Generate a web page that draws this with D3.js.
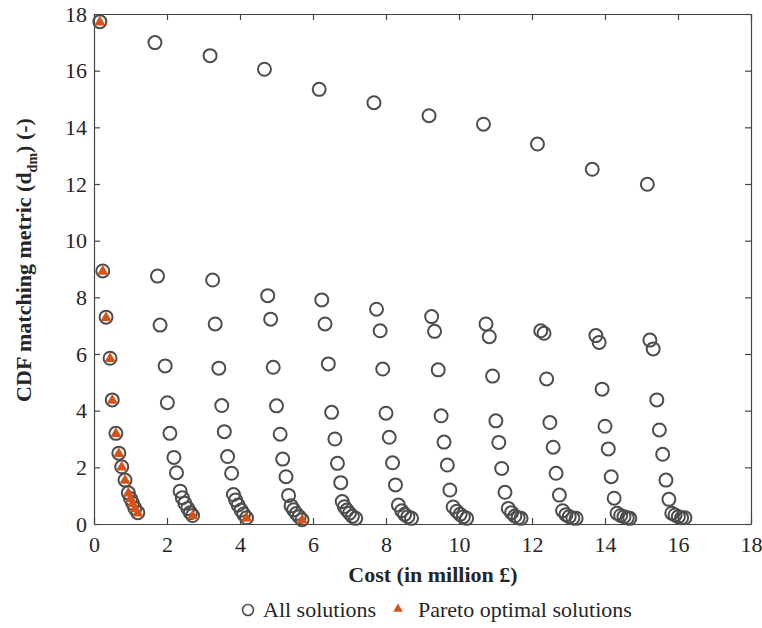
<!DOCTYPE html>
<html>
<head>
<meta charset="utf-8">
<script src="https://cdn.jsdelivr.net/npm/d3@7"></script>
<style>
  body { margin: 0; background: #fff; }
  text { font-family: "Liberation Serif", "Times New Roman", serif; fill: #262626; }
</style>
</head>
<body>
<div id="vis"></div>
<script>
// all solutions, one line per group (first value is the top row point)
var allCost = [
  [0.16, 0.24, 0.33, 0.44, 0.50, 0.60, 0.68, 0.76, 0.85, 0.94, 1.00, 1.06, 1.12, 1.20],
  [1.67, 1.74, 1.81, 1.95, 2.01, 2.08, 2.19, 2.26, 2.36, 2.42, 2.49, 2.57, 2.64, 2.70],
  [3.18, 3.25, 3.32, 3.42, 3.50, 3.57, 3.66, 3.77, 3.82, 3.88, 3.95, 4.03, 4.10, 4.18],
  [4.67, 4.76, 4.84, 4.91, 5.00, 5.10, 5.17, 5.26, 5.33, 5.40, 5.47, 5.54, 5.62, 5.70],
  [6.17, 6.24, 6.33, 6.42, 6.51, 6.60, 6.67, 6.76, 6.80, 6.86, 6.93, 7.00, 7.08, 7.17],
  [7.67, 7.74, 7.84, 7.91, 8.00, 8.09, 8.18, 8.26, 8.34, 8.43, 8.51, 8.60, 8.70],
  [9.18, 9.25, 9.33, 9.43, 9.51, 9.59, 9.68, 9.75, 9.84, 9.94, 10.03, 10.12, 10.21],
  [10.67, 10.74, 10.83, 10.92, 11.01, 11.09, 11.17, 11.26, 11.35, 11.44, 11.53, 11.62, 11.70],
  [12.15, 12.24, 12.33, 12.40, 12.49, 12.58, 12.66, 12.75, 12.84, 12.93, 13.02, 13.12, 13.21],
  [13.65, 13.75, 13.84, 13.92, 14.00, 14.09, 14.17, 14.25, 14.33, 14.43, 14.52, 14.61, 14.68],
  [15.16, 15.23, 15.32, 15.42, 15.49, 15.58, 15.67, 15.75, 15.83, 15.92, 16.01, 16.10, 16.19]
];
var allMetric = [
  [17.73, 8.93, 7.30, 5.85, 4.38, 3.20, 2.50, 2.02, 1.55, 1.10, 0.90, 0.73, 0.55, 0.40],
  [16.99, 8.75, 7.02, 5.58, 4.28, 3.20, 2.35, 1.81, 1.16, 0.93, 0.73, 0.55, 0.40, 0.30],
  [16.53, 8.61, 7.06, 5.50, 4.18, 3.26, 2.38, 1.79, 1.04, 0.85, 0.67, 0.49, 0.35, 0.22],
  [16.05, 8.06, 7.23, 5.53, 4.17, 3.17, 2.29, 1.67, 1.01, 0.64, 0.50, 0.37, 0.26, 0.15],
  [15.34, 7.91, 7.06, 5.65, 3.94, 3.00, 2.14, 1.46, 0.79, 0.61, 0.49, 0.38, 0.27, 0.20],
  [14.87, 7.58, 6.82, 5.47, 3.91, 3.06, 2.16, 1.38, 0.67, 0.47, 0.34, 0.26, 0.20],
  [14.41, 7.32, 6.80, 5.44, 3.82, 2.89, 2.08, 1.20, 0.60, 0.45, 0.34, 0.26, 0.20],
  [14.11, 7.06, 6.61, 5.22, 3.64, 2.88, 1.96, 1.12, 0.55, 0.40, 0.28, 0.22, 0.20],
  [13.41, 6.82, 6.73, 5.12, 3.58, 2.71, 1.79, 1.02, 0.47, 0.33, 0.26, 0.21, 0.20],
  [12.52, 6.65, 6.41, 4.76, 3.45, 2.65, 1.67, 0.91, 0.38, 0.30, 0.26, 0.22, 0.20],
  [11.99, 6.49, 6.18, 4.38, 3.32, 2.46, 1.55, 0.87, 0.38, 0.32, 0.26, 0.22, 0.22]
];

// pareto optimal solutions
var paretoCost = [0.16, 0.24, 0.33, 0.44, 0.50, 0.60, 0.68, 0.76, 0.85, 0.94, 1.00, 1.06, 1.12, 1.20, 2.70, 4.18, 5.70];
var paretoMetric = [17.73, 8.93, 7.30, 5.85, 4.38, 3.20, 2.50, 2.02, 1.55, 1.10, 0.90, 0.73, 0.55, 0.40, 0.30, 0.22, 0.15];

var xTicks = [0, 2, 4, 6, 8, 10, 12, 14, 16, 18];
var yTicks = [0, 2, 4, 6, 8, 10, 12, 14, 16, 18];

var allPoints = [];
allCost.forEach(function(col, i) {
  col.forEach(function(c, j) { allPoints.push({cost: c, metric: allMetric[i][j]}); });
});
var paretoPoints = paretoCost.map(function(c, i) { return {cost: c, metric: paretoMetric[i]}; });

var svg = d3.select('#vis').append('svg').attr('width', 762).attr('height', 628);

var x = d3.scaleLinear().domain([0, 18]).range([94, 751]);
var y = d3.scaleLinear().domain([0, 18]).range([524, 14]);

var axisColor = '#444';
var fs = 22;
var serif = '"Liberation Serif", "Times New Roman", serif';

// box and axes (ticks pointing inward)
svg.append('g').attr('transform', 'translate(0,524)')
  .call(d3.axisBottom(x).tickValues(xTicks).tickSizeInner(-6).tickSizeOuter(0).tickPadding(12))
  .attr('font-family', serif).attr('font-size', fs);
svg.append('g').attr('transform', 'translate(94,0)')
  .call(d3.axisLeft(y).tickValues(yTicks).tickSizeInner(-6).tickSizeOuter(0).tickPadding(7))
  .attr('font-family', serif).attr('font-size', fs);
svg.append('g').attr('transform', 'translate(0,14)')
  .call(d3.axisTop(x).tickValues(xTicks).tickSizeInner(-6).tickSizeOuter(0).tickFormat(''));
svg.append('g').attr('transform', 'translate(751,0)')
  .call(d3.axisRight(y).tickValues(yTicks).tickSizeInner(-6).tickSizeOuter(0).tickFormat(''));
svg.selectAll('.domain, .tick line').attr('stroke', axisColor).attr('stroke-width', 1.2);

// points
svg.selectAll('circle.all')
  .data(allPoints).enter().append('circle')
  .attr('class', 'all')
  .attr('cx', function(d) { return x(d.cost); })
  .attr('cy', function(d) { return y(d.metric); })
  .attr('r', 6.5)
  .attr('fill', 'none')
  .attr('stroke', '#4d4d4d')
  .attr('stroke-width', 2);

var tri = d3.symbol().type(d3.symbolTriangle).size(55);
svg.selectAll('path.pareto')
  .data(paretoPoints).enter().append('path')
  .attr('class', 'pareto')
  .attr('d', tri)
  .attr('transform', function(d) { return 'translate(' + x(d.cost) + ',' + (y(d.metric) + 0.5) + ')'; })
  .attr('fill', '#d95319');

// axis titles
svg.append('text')
  .attr('x', 433).attr('y', 582)
  .attr('text-anchor', 'middle')
  .attr('font-size', fs).attr('font-weight', 'bold')
  .text('Cost (in million £)');

var yl = svg.append('text')
  .attr('transform', 'translate(31,260) rotate(-90)')
  .attr('text-anchor', 'middle')
  .attr('font-size', fs).attr('font-weight', 'bold');
yl.append('tspan').text('CDF matching metric (d');
yl.append('tspan').attr('font-size', 14).attr('dy', 6).text('dm');
yl.append('tspan').attr('dy', -6).text(') (-)');

// legend
var leg = svg.append('g');
leg.append('circle').attr('cx', 248).attr('cy', 610).attr('r', 5.5)
  .attr('fill', 'none').attr('stroke', '#4d4d4d').attr('stroke-width', 1.6);
leg.append('text').attr('x', 263).attr('y', 617).attr('font-size', fs).text('All solutions');
leg.append('path').attr('d', d3.symbol().type(d3.symbolTriangle).size(40))
  .attr('transform', 'translate(398,609)').attr('fill', '#d95319');
leg.append('text').attr('x', 418).attr('y', 617).attr('font-size', fs).text('Pareto optimal solutions');
</script>
</body>
</html>
